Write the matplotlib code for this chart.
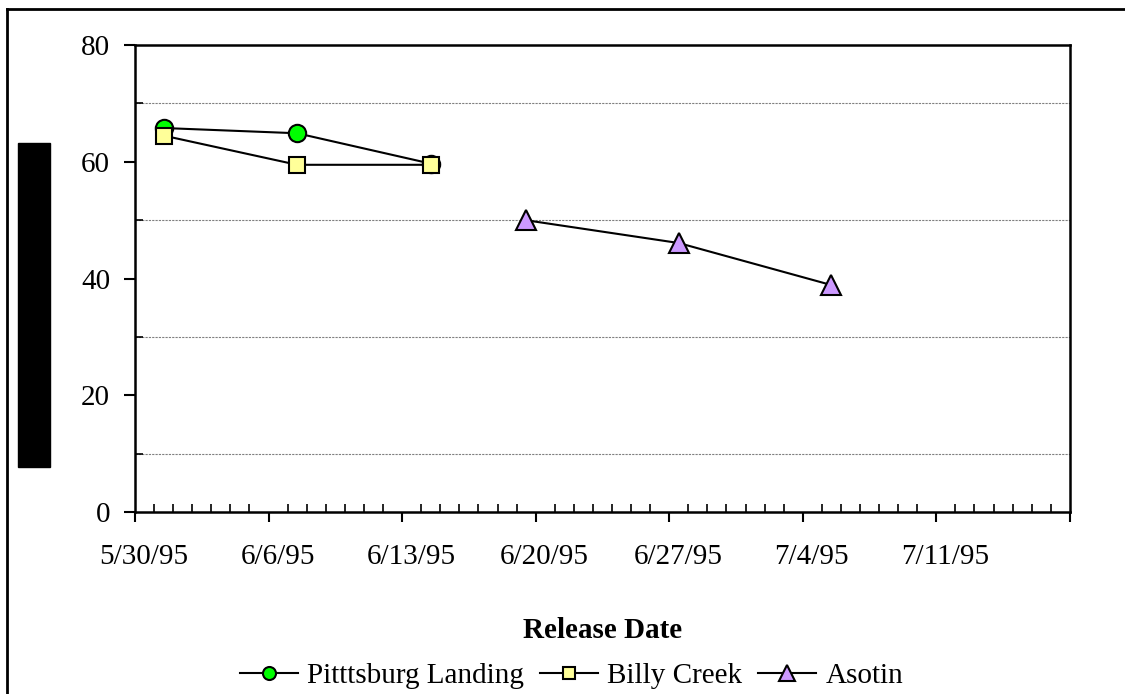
import matplotlib
matplotlib.use('Agg')
import matplotlib.pyplot as plt
import matplotlib.dates as mdates
import matplotlib.transforms as mtransforms
from matplotlib.lines import Line2D
from matplotlib.patches import Rectangle
import numpy as np
import pandas as pd

FONT_SIZE = 21

# release dates and values
pitts_dates = ['1995-05-31', '1995-06-07', '1995-06-14']
pitts_vals = [65.8, 64.9, 59.7]
billy_dates = ['1995-05-31', '1995-06-07', '1995-06-14']
billy_vals = [64.5, 59.5, 59.5]
asotin_dates = ['1995-06-19', '1995-06-27', '1995-07-05']
asotin_vals = [50.0, 46.1, 38.9]

x_start, x_end = '1995-05-30', '1995-07-18'
y_ticks = [0, 20, 40, 60, 80]


def to_x(dates):
    # excel puts each point in the middle of its day
    return pd.to_datetime(dates) + pd.Timedelta(hours=12)


def main():
    plt.rcParams['font.family'] = ['Liberation Serif', 'DejaVu Serif']
    fig = plt.figure(figsize=(11.25, 6.94), dpi=100)
    ax = fig.add_axes([0.12, 0.262, 0.831, 0.673])

    ax.plot(to_x(pitts_dates), pitts_vals, color='black', linewidth=1.5,
            marker='o', markersize=12.5, markerfacecolor='#00FF00',
            markeredgecolor='black', markeredgewidth=1.5, label='Pitttsburg Landing', zorder=3)
    ax.plot(to_x(billy_dates), billy_vals, color='black', linewidth=1.5,
            marker='s', markersize=12, markerfacecolor='#FFFF99',
            markeredgecolor='black', markeredgewidth=1.5, label='Billy Creek', zorder=4)
    ax.plot(to_x(asotin_dates), asotin_vals, color='black', linewidth=1.5,
            marker='^', markersize=14.5, markerfacecolor='#CC99FF',
            markeredgecolor='black', markeredgewidth=1.5, label='Asotin', zorder=5)

    ax.set_xlim(pd.Timestamp(x_start), pd.Timestamp(x_end))
    ax.set_ylim(0, 80)

    major = pd.date_range(x_start, x_end, freq='7D')
    minor = pd.date_range(x_start, x_end, freq='1D')
    ax.set_xticks(mdates.date2num(major))
    ax.set_xticks(mdates.date2num(minor), minor=True)
    labels = [f"{d.month}/{d.day}/{d.strftime('%y')}" for d in major]
    labels[-1] = ''
    ax.set_xticklabels(labels, fontsize=FONT_SIZE)
    ax.tick_params(axis='x', which='major', direction='out', length=7, width=1.5, pad=16)
    ax.tick_params(axis='x', which='minor', direction='in', length=6, width=1.2)

    ax.set_yticks(y_ticks)
    ax.set_yticks(np.arange(0, 81, 10), minor=True)
    ax.set_yticklabels([str(v) for v in y_ticks], fontsize=FONT_SIZE)
    ax.tick_params(axis='y', which='major', direction='out', length=8, width=1.5, pad=10)
    ax.tick_params(axis='y', which='minor', direction='in', length=6, width=1.2)

    # labels sit in the middle of the day, like excel
    shift = mtransforms.ScaledTranslation(0.09, 0, fig.dpi_scale_trans)
    for lab in ax.get_xticklabels():
        lab.set_transform(lab.get_transform() + shift)

    ax.grid(True, axis='y', which='minor', color='#808080', linestyle=(0, (2, 1)), linewidth=0.8)
    for s in ax.spines.values():
        s.set_linewidth(1.8)

    ax.set_xlabel('Release Date', fontsize=FONT_SIZE, fontweight='bold', labelpad=34)

    fig.legend(*ax.get_legend_handles_labels(), loc='upper center',
               bbox_to_anchor=(0.508, 0.062), bbox_transform=fig.transFigure,
               ncol=3, frameon=False, fontsize=FONT_SIZE, handlelength=2.0,
               handletextpad=0.3, columnspacing=0.55, borderaxespad=0, markerscale=0.75)

    # redacted y label box and the outer frame
    fig.patches.append(Rectangle((18 / 1125, 1 - 467 / 694), 32 / 1125, 324 / 694,
                                 transform=fig.transFigure, color='black'))
    fig.lines.append(Line2D([7 / 1125, 1], [1 - 9 / 694, 1 - 9 / 694],
                            transform=fig.transFigure, color='black', linewidth=2))
    fig.lines.append(Line2D([7 / 1125, 7 / 1125], [0, 1 - 9 / 694],
                            transform=fig.transFigure, color='black', linewidth=2))

    fig.savefig('out.png', dpi=100)


if __name__ == '__main__':
    main()
